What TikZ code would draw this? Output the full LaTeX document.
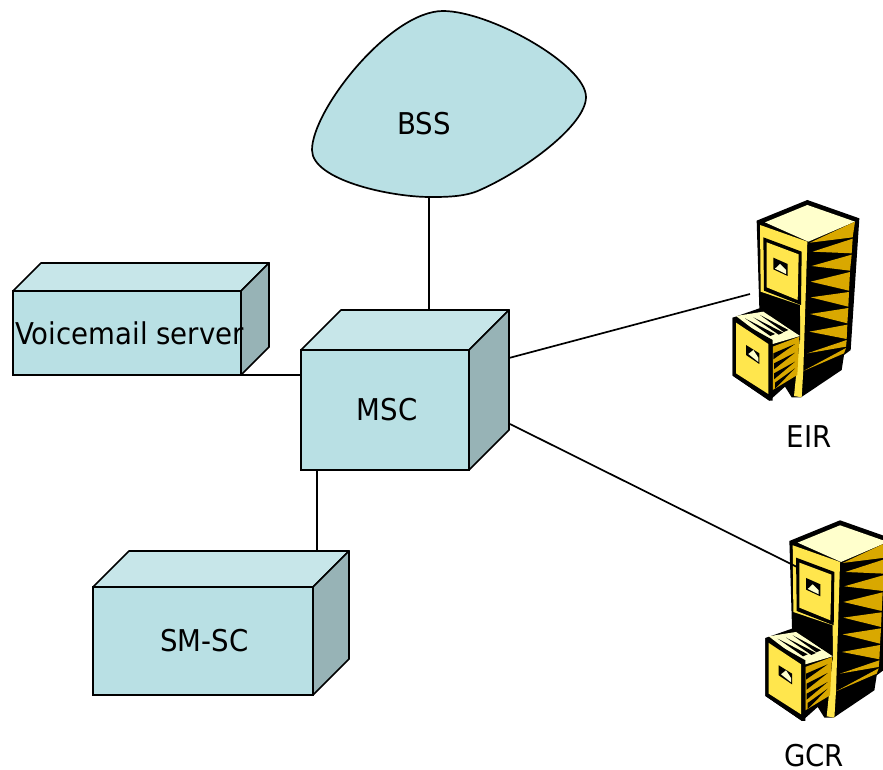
\documentclass[tikz,border=0pt]{standalone}
\usepackage{fontspec}
\setmainfont{DejaVu Sans}[FakeStretch=0.92]
\usetikzlibrary{calc}
\pgfdeclarelayer{bg}
\pgfsetlayers{bg,main}
\definecolor{blockfront}{RGB}{185,224,228}
\definecolor{blocktop}{RGB}{199,230,233}
\definecolor{blockside}{RGB}{151,179,182}
\definecolor{cabyellow}{RGB}{255,230,77}
\definecolor{cabcream}{RGB}{255,255,204}
\definecolor{cabgold}{RGB}{217,168,0}
\tikzstyle{block} = [draw, fill=blockfront, rectangle, line width=1.7pt, inner sep=0pt, outer sep=0pt, font=\fontsize{30}{32}\selectfont]
\tikzstyle{face} = [draw, line width=1.7pt, line join=round]
\tikzstyle{tag} = [font=\fontsize{30}{32}\selectfont, inner sep=0pt]
\tikzstyle{wire} = [line width=1.7pt]
% top and side of a block, behind its text
\newcommand{\blockfaces}[2]{
\coordinate (#1 back) at ($(#1.north west)+(#2,-#2)$);
\begin{pgfonlayer}{bg}
\draw[face, fill=blocktop] (#1.north west) -- (#1 back) -- ($(#1.north east)+(#2,-#2)$) -- (#1.north east) -- cycle;
\draw[face, fill=blockside] (#1.north east) -- ($(#1.north east)+(#2,-#2)$) -- ($(#1.south east)+(#2,-#2)$) -- (#1.south east) -- cycle;
\end{pgfonlayer}
}
\tikzset{
pics/cabinet/.style={code={
\fill[black] (110,92) -- (262,30) -- (418,85) -- (392,480) -- (372,495) -- (365,540) -- (243,622) -- (215,622) -- (195,590) -- (148,632) -- (38,557) -- (38,383) -- (118,355) -- cycle;
\fill[cabcream] (135,97) -- (262,45) -- (405,95) -- (265,155) -- cycle;
\fill[cabyellow] (120,105) -- (262,155) -- (250,540) -- (245,622) -- (222,618) -- (240,440) -- (240,345) -- (122,305) -- cycle;
%% Upper drawer %%
\fill[black] (130,142) -- (245,185) -- (243,345) -- (132,302) -- cycle;
\fill[cabyellow] (140,157) -- (236,193) -- (233,330) -- (140,292) -- cycle;
\fill[black] (160,203) -- (203,222) -- (203,258) -- (160,238) -- cycle;
\fill[cabcream] (165,236) -- (180,222) -- (198,240) -- (198,252) -- cycle;
\fill[black] (132,330) -- (240,378) -- (240,450) -- (132,400) -- cycle;
%% Side %%
\foreach \tipx/\tipy/\ax/\ay/\bx/\by in {270/158/405/95/398/142, 278/185/398/146/395/190, 275/228/395/194/390/242, 272/275/390/246/387/302, 272/322/387/306/385/350, 270/372/385/354/382/400, 268/425/382/404/380/447, 262/490/380/450/378/470}
\fill[cabgold] (\tipx,\tipy) -- (\ax,\ay) -- (\bx,\by) -- cycle;
\fill[cabgold] (250,543) -- (378,474) -- (372,490) -- cycle;
%% Lower drawer %%
\fill[cabcream] (48,378) -- (130,365) -- (240,438) -- (158,462) -- cycle;
\foreach \ax/\ay/\bx/\by in {75/385/165/432, 100/382/190/428, 120/375/205/420, 140/368/222/410}
\fill[black] (\ax,\ay) -- (\bx,\by) -- (\bx-14,\by+6) -- cycle;
\fill[cabgold] (158,470) -- (238,440) -- (232,555) -- (158,600) -- cycle;
\foreach \ax/\ay/\bx/\by in {160/490/225/462, 162/520/225/488, 162/550/225/515, 165/578/225/535}
\fill[black] (\ax,\ay) -- (\bx,\by) -- (\ax,\ay+18) -- cycle;
\fill[black] (38,383) -- (158,450) -- (158,632) -- (148,632) -- (38,557) -- cycle;
\fill[cabyellow] (48,398) -- (145,462) -- (145,612) -- (48,550) -- cycle;
\fill[black] (78,465) -- (118,490) -- (118,522) -- (78,495) -- cycle;
\fill[cabcream] (85,492) -- (100,480) -- (115,503) -- (115,516) -- cycle;
}}}
\begin{document}
\begin{tikzpicture}[x=1pt,y=-1pt]
\useasboundingbox (0,0) rectangle (883,770);
%% Blocks %%
\node [block, minimum width=168pt, minimum height=120pt] (MSC) at (385,410) {\hspace{4pt}MSC};
\node [block, minimum width=228pt, minimum height=84pt] (Voicemail) at ($(MSC)+(-258,-77)$) {\makebox[0pt]{\hspace{5pt}Voicemail server}};
\node [block, minimum width=220pt, minimum height=108pt] (SMSC) at ($(MSC)+(-182,231)$) {\hspace{3pt}SM-SC};
\blockfaces{MSC}{40}
\blockfaces{Voicemail}{28}
\blockfaces{SMSC}{36}

%% BSS cloud %%
\begin{pgfonlayer}{bg}
\draw[face, fill=blockfront] (443,11) .. controls (490,11) and (586,65) .. (586,97) .. controls (586,125) and (525,170) .. (480,190) .. controls (465,197) and (445,197) .. (430,197) .. controls (390,197) and (312,180) .. (312,150) .. controls (312,110) and (390,11) .. (443,11) -- cycle;
\end{pgfonlayer}
\node [tag] (BSS) at ($(MSC)+(39,-286)$) {BSS};
\coordinate (BSSfoot) at ($(BSS)+(5,73)$);

%% Cabinets %%
\node [tag] (EIR) at ($(MSC)+(424,27)$) {EIR};
\node [tag] (GCR) at ($(EIR)+(5,319)$) {GCR};
\pic [scale=1/3] at ($(EIR)+(-89,-247)$) {cabinet};
\pic [scale=1/3] at ($(GCR)+(-61.3,-245.7)$) {cabinet};
\coordinate (EIRport) at ($(EIR)+(-59,-143)$);
\coordinate (GCRport) at ($(GCR)+(-17,-189)$);
\coordinate (MSCfoot) at ($(MSC.south west)+(16,0)$);

%% Connections %%
\draw[wire] (BSSfoot) -- (BSSfoot |- MSC back);
\draw[wire] (Voicemail.south east) -- (Voicemail.south east -| MSC.west);
\draw[wire] (MSCfoot) -- (MSCfoot |- SMSC back);
\draw[wire] ($(MSC.north east)+(40,8)$) -- (EIRport);
\draw[wire] ($(MSC.north east)+(41,74)$) -- (GCRport);
\end{tikzpicture}
\end{document}
